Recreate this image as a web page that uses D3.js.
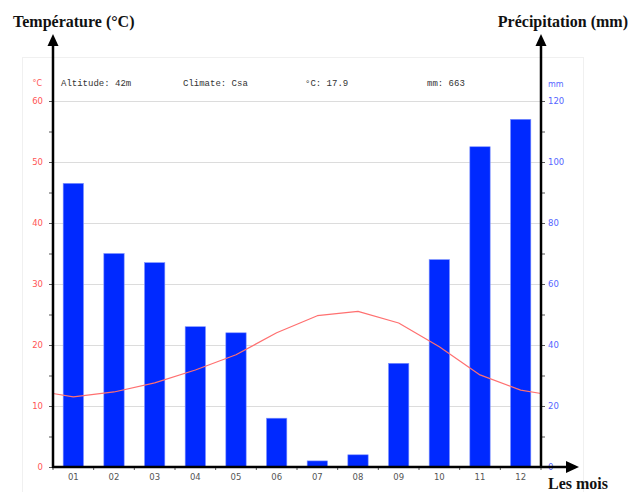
<!DOCTYPE html>
<html>
<head>
<meta charset="utf-8">
<script src="https://cdn.jsdelivr.net/npm/d3@7"></script>
<style>
  html, body { margin: 0; padding: 0; background: #fff; }
  svg { display: block; }
</style>
</head>
<body>
<svg id="chart" width="635" height="492"></svg>
<script>
// Monthly climate data
const months = ["01","02","03","04","05","06","07","08","09","10","11","12"];
const precipitation = [93, 70, 67, 46, 44, 16, 2, 4, 34, 68, 105, 114];
const temperature = [11.5, 12.3, 13.8, 15.9, 18.4, 22.0, 24.8, 25.5, 23.6, 19.7, 15.1, 12.6];
const tempTicks = [0, 10, 20, 30, 40, 50, 60];
const precipTicks = [0, 20, 40, 60, 80, 100, 120];
const infoTexts = ["Altitude: 42m", "Climate: Csa", "°C: 17.9", "mm: 663"];

const svg = d3.select("#chart");
const plotLeft = 53, plotRight = 541, plotTop = 101, plotBottom = 467;

const x = d3.scaleBand().domain(months).range([plotLeft, plotRight]).paddingInner(0.5).paddingOuter(0.25);
const yT = d3.scaleLinear().domain([0, 60]).range([plotBottom, plotTop]);
const yP = d3.scaleLinear().domain([0, 120]).range([plotBottom, plotTop]);

// faint panel frame
svg.append("rect").attr("x", 22.5).attr("y", 57.5).attr("width", 561).attr("height", 440)
  .attr("fill", "none").attr("stroke", "#f0f0f0");

// horizontal grid lines
svg.append("g").selectAll("line").data(tempTicks.filter(d => d > 0)).join("line")
  .attr("x1", plotLeft).attr("x2", plotRight)
  .attr("y1", d => yT(d) + 0.5).attr("y2", d => yT(d) + 0.5)
  .attr("stroke", "#dcdcdc").attr("stroke-width", 1);

// info header
const infoX = [61, 183, 305, 427];
svg.append("g").selectAll("text").data(infoTexts).join("text")
  .attr("x", (d, i) => infoX[i]).attr("y", 86)
  .attr("font-family", "Liberation Mono, DejaVu Sans Mono, monospace")
  .attr("font-size", 9).attr("fill", "#333").text(d => d);

// unit labels
svg.append("text").attr("x", 42).attr("y", 86).attr("text-anchor", "end")
  .attr("font-family", "DejaVu Sans, sans-serif").attr("font-size", 8).attr("fill", "#ff5555").text("°C");
svg.append("text").attr("x", 548).attr("y", 87)
  .attr("font-family", "DejaVu Sans, sans-serif").attr("font-size", 8).attr("fill", "#5566ff").text("mm");

// precipitation bars
svg.append("g").selectAll("rect").data(precipitation).join("rect")
  .attr("x", (d, i) => x(months[i]))
  .attr("y", d => yP(d))
  .attr("width", x.bandwidth())
  .attr("height", d => plotBottom - yP(d))
  .attr("fill", "#0029ff")
  .attr("stroke", "#7f93ff").attr("stroke-width", 0.6);

// temperature line, closed at the edges with the Dec/Jan average
const edgeT = (temperature[0] + temperature[11]) / 2;
const pts = [[plotLeft, edgeT]]
  .concat(temperature.map((t, i) => [x(months[i]) + x.bandwidth() / 2, t]))
  .concat([[plotRight, edgeT]]);
svg.append("path")
  .attr("d", d3.line().x(d => d[0]).y(d => yT(d[1])).curve(d3.curveLinear)(pts))
  .attr("fill", "none").attr("stroke", "#ff7070").attr("stroke-width", 1.2)
  .attr("stroke-linejoin", "round");

// left axis (temperature)
const axL = svg.append("g").attr("transform", `translate(${plotLeft},0)`)
  .call(d3.axisLeft(yT).tickValues(d3.range(0, 61, 5)).tickSize(4).tickFormat(d => d % 10 === 0 ? d : ""));
axL.select(".domain").remove();
axL.selectAll(".tick line").attr("stroke", "#555");
axL.selectAll("text").attr("x", -10).attr("fill", "#ff5555")
  .attr("font-family", "DejaVu Sans, sans-serif").attr("font-size", 8.5);

// right axis (precipitation)
const axR = svg.append("g").attr("transform", `translate(${plotRight},0)`)
  .call(d3.axisRight(yP).tickValues(d3.range(0, 121, 10)).tickSize(4).tickFormat(d => d % 20 === 0 ? d : ""));
axR.select(".domain").remove();
axR.selectAll(".tick line").attr("stroke", "#555");
axR.selectAll("text").attr("x", 7).attr("fill", "#5566ff")
  .attr("font-family", "DejaVu Sans, sans-serif").attr("font-size", 8.5);

// bottom axis (months)
const axB = svg.append("g").attr("transform", `translate(0,${plotBottom})`)
  .call(d3.axisBottom(x).tickSize(0).tickPadding(7));
axB.select(".domain").remove();
axB.selectAll("text").attr("fill", "#555")
  .attr("font-family", "DejaVu Sans, sans-serif").attr("font-size", 8.5);
// band boundary ticks
svg.append("g").selectAll("line").data(d3.range(0, 13)).join("line")
  .attr("x1", d => plotLeft + d * (plotRight - plotLeft) / 12)
  .attr("x2", d => plotLeft + d * (plotRight - plotLeft) / 12)
  .attr("y1", plotBottom).attr("y2", plotBottom + 3).attr("stroke", "#555");

// black arrow axes
const axisG = svg.append("g");
axisG.append("line").attr("x1", plotLeft).attr("x2", plotLeft).attr("y1", plotBottom + 1).attr("y2", 44)
  .attr("stroke", "#000").attr("stroke-width", 2.5);
axisG.append("line").attr("x1", plotRight).attr("x2", plotRight).attr("y1", plotBottom + 1).attr("y2", 44)
  .attr("stroke", "#000").attr("stroke-width", 2.5);
axisG.append("line").attr("x1", plotLeft - 1).attr("x2", 568).attr("y1", plotBottom).attr("y2", plotBottom)
  .attr("stroke", "#000").attr("stroke-width", 2.5);
const upArrow = (cx) => `M${cx},34 L${cx - 5.5},46 L${cx + 5.5},46 Z`;
axisG.append("path").attr("d", upArrow(plotLeft)).attr("fill", "#000");
axisG.append("path").attr("d", upArrow(plotRight)).attr("fill", "#000");
axisG.append("path").attr("d", `M579,${plotBottom} L566,${plotBottom - 6} L566,${plotBottom + 6} Z`).attr("fill", "#000");

// axis titles
const titleFont = "Liberation Serif, Times New Roman, serif";
svg.append("text").attr("x", 13).attr("y", 27).attr("font-family", titleFont)
  .attr("font-weight", "bold").attr("font-size", 16).attr("fill", "#111").text("Température (°C)");
svg.append("text").attr("x", 628).attr("y", 27).attr("text-anchor", "end").attr("font-family", titleFont)
  .attr("font-weight", "bold").attr("font-size", 16).attr("fill", "#111").text("Précipitation (mm)");
svg.append("text").attr("x", 608).attr("y", 489).attr("text-anchor", "end").attr("font-family", titleFont)
  .attr("font-weight", "bold").attr("font-size", 16).attr("fill", "#111").text("Les mois");
</script>
</body>
</html>
